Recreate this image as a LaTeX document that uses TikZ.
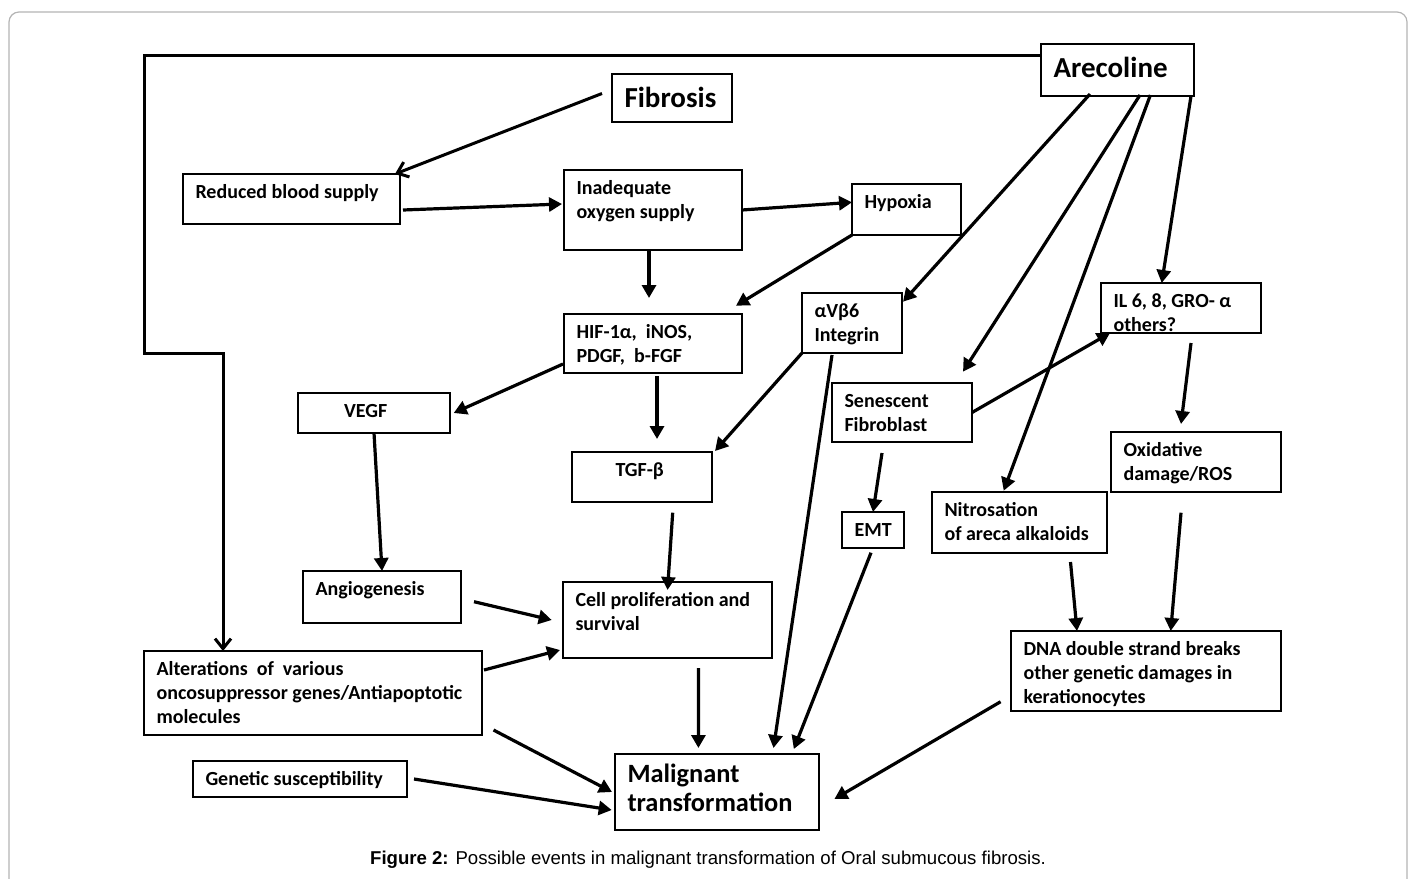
\documentclass[tikz,border=0pt]{standalone}
\usepackage{fontspec}
\setmainfont{Carlito}
\newfontfamily\capfont{Liberation Sans}
\usetikzlibrary{arrows.meta}
\definecolor{cframe}{HTML}{B4B4B4}
% box text: width, height (px), top-left aligned
\newcommand{\evt}[3]{\parbox[c][\dimexpr(#2pt-16pt)/2\relax][t]{\dimexpr#1pt/2\relax}{\raggedright\leftskip=6.25pt\strut#3}}
\tikzset{
  ev/.style={draw, line width=0.75pt, anchor=north west, inner xsep=0pt, inner ysep=4pt, outer sep=0pt,
    font=\fontsize{10}{12}\selectfont\bfseries},
  big/.style={ev, font=\fontsize{14.5}{18.5}\selectfont\bfseries},
  mal/.style={ev, font=\fontsize{13.2}{14.7}\selectfont\bfseries},
  arr/.style={-{Triangle[length=6.5pt,width=7pt]}, line width=1.6pt},
  barb/.style={-{Straight Barb[length=5pt,width=8pt]}, line width=1.5pt},
  caption/.style={font=\capfont\fontsize{9.3}{11}\selectfont},
}

\begin{document}
\begin{tikzpicture}[x=0.5pt, y=-0.5pt]
  \useasboundingbox (0,0) rectangle (1416,878);
  \draw[cframe, line width=0.6pt, rounded corners=5pt] (9,12) rectangle (1407,895);

  \node[big] (fib) at (612,74) {\evt{120}{48}{Fibrosis}};
  \node[big] (are) at (1041,44) {\evt{153}{52}{Arecoline}};
  \node[ev] (rbs) at (183,174) {\evt{217}{50}{Reduced blood supply}};
  \node[ev] (ios) at (564,170) {\evt{178}{80}{Inadequate\\oxygen supply}};
  \node[ev] (hyp) at (852,184) {\evt{109}{51}{Hypoxia}};
  \node[ev] (hif) at (564,314) {\evt{178}{59}{HIF-1α,~ iNOS,\\PDGF,~ b-FGF}};
  \node[ev] (vegf) at (298,393) {\evt{152}{40}{\hspace*{16.75pt}VEGF}};
  \node[ev] (itg) at (802,293) {\evt{100}{60}{αVβ6\\Integrin}};
  \node[ev] (il) at (1101,283) {\evt{160}{50}{IL 6, 8, GRO- α\\others?}};
  \node[ev] (sen) at (832,383) {\evt{140}{59}{Senescent\\Fibroblast}};
  \node[ev] (oxd) at (1111,432) {\evt{170}{60}{Oxidative\\damage/ROS}};
  \node[ev] (tgf) at (572,452) {\evt{140}{50}{\hspace*{15.5pt}TGF-β}};
  \node[ev] (emt) at (842,512) {\evt{62}{36}{EMT}};
  \node[ev] (nit) at (932,492) {\evt{175}{61}{Nitrosation\\of areca alkaloids}};
  \node[ev] (ang) at (303,571) {\evt{158}{52}{Angiogenesis}};
  \node[ev] (cel) at (563,582) {\evt{209}{76}{Cell proliferation and\\survival}};
  \node[ev] (alt) at (144,651) {\evt{338}{84}{Alterations~ of~ various\\oncosuppressor genes/Antiapoptotic\\molecules}};
  \node[ev] (gen) at (193,761) {\evt{214}{36}{Genetic susceptibility}};
  \node[mal] (mal) at (615,754) {\evt{204}{76}{Malignant\\transformation}};
  \node[ev] (dna) at (1011,631) {\evt{270}{80}{DNA double strand breaks\\other genetic damages in\\kerationocytes}};

  % arecoline feeds back to the oncosuppressor genes
  \draw[barb] ([yshift=7.5pt]are.west) -| (alt.west |- itg.south) -| ([xshift=39.5pt]alt.north west);
  \draw[barb] ([shift={(-5pt,2.25pt)}]fib.west) -- ([xshift=-2.5pt]rbs.north east);

  \draw[arr] ([shift={(1.5pt,-5.5pt)}]rbs.east) -- ([shift={(-1pt,3pt)}]ios.west);
  \draw[arr] (ios.east) -- ([yshift=3.6pt]hyp.west);
  \draw[arr] ([xshift=-2pt]ios.south) -- ([shift={(-2pt,8pt)}]hif.north);
  \draw[arr] (hyp.south west) -- ([shift={(-3pt,4.15pt)}]hif.north east);
  \draw[arr] ([shift={(-0.5pt,4.5pt)}]hif.south west) -- ([xshift=1.85pt]vegf.east);
  \draw[arr] ([shift={(2pt,-1.5pt)}]hif.south) -- ([shift={(7.5pt,6.5pt)}]tgf.north);
  \draw[arr] (vegf.south) -- (ang.north);

  \draw[arr] ([shift={(-13.75pt,1pt)}]are.south) -- ([shift={(0.5pt,-4.35pt)}]itg.north east);
  \draw[arr] ([shift={(11.25pt,0.5pt)}]are.south) -- ([shift={(-4.5pt,5.65pt)}]sen.north east);
  \draw[arr] ([shift={(16.45pt,0.5pt)}]are.south) -- ([shift={(-7.9pt,0.65pt)}]nit.north);
  \draw[arr] ([xshift=-1.5pt]are.south east) -- ([xshift=-9.65pt]il.north);
  \draw[arr] (sen.east) -- ([xshift=4.5pt]il.south west);
  \draw[arr] ([shift={(5pt,-5pt)}]il.south) -- ([shift={(-7.5pt,4pt)}]oxd.north);

  \draw[arr] (itg.south west) -- ([shift={(1.5pt,0.5pt)}]tgf.north east);
  \draw[arr] ([shift={(-10pt,-1pt)}]itg.south) -- ([shift={(28.25pt,3pt)}]mal.north);
  \draw[arr] ([shift={(-10pt,-5.5pt)}]sen.south) -- (emt.north);
  \draw[arr] ([shift={(-1pt,-2.35pt)}]emt.south) -- ([shift={(-12.6pt,2.5pt)}]mal.north east);
  \draw[arr] ([shift={(-7.5pt,-10.35pt)}]oxd.south) -- ([xshift=12.35pt]dna.north);
  \draw[arr] ([shift={(25.5pt,-4.5pt)}]nit.south) -- ([xshift=-34.5pt]dna.north);
  \draw[arr] ([shift={(-5.2pt,4.65pt)}]dna.south west) -- ([shift={(7.7pt,-3.5pt)}]mal.east);

  \draw[arr] ([shift={(15.35pt,-5.35pt)}]tgf.south) -- ([yshift=-4pt]cel.north);
  \draw[arr] ([shift={(6.5pt,-2.35pt)}]ang.east) -- ([xshift=-5.65pt]cel.west);
  \draw[arr] ([shift={(1pt,-9.5pt)}]alt.north east) -- ([shift={(-1.5pt,4pt)}]cel.south west);
  \draw[arr] ([shift={(15.5pt,-5pt)}]cel.south) -- ([shift={(-9.3pt,3pt)}]mal.north);
  \draw[arr] ([shift={(5.75pt,2.5pt)}]alt.south east) -- ([xshift=-1.5pt]mal.west);
  \draw[arr] ([xshift=3.5pt]gen.east) -- ([shift={(-1.65pt,-9pt)}]mal.west);

  \node[caption] (cap) at (708,860) {\textbf{Figure 2:} Possible events in malignant transformation of Oral submucous fibrosis.};
\end{tikzpicture}
\end{document}
